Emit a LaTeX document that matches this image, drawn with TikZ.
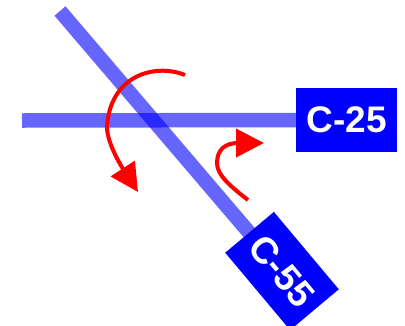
\documentclass[tikz,border=0pt]{standalone}
\usepackage{fontspec}
\setmainfont{Liberation Sans}
\usetikzlibrary{arrows.meta,backgrounds}
\tikzset{
  labelbox/.style={fill={rgb,255:red,0;green,0;blue,255}, text=white, inner sep=0pt,
    minimum width=101pt, minimum height=63.5pt,
    font=\bfseries\fontsize{37}{40}\selectfont},
  bar/.style={draw={rgb,255:red,0;green,0;blue,255}, draw opacity=0.6, line width=14.5pt},
  turn/.style={draw=red, line width=4pt, -{Triangle[length=28pt,width=28pt]}}
}
\begin{document}
\begin{tikzpicture}[x=1pt,y=-1pt]
\useasboundingbox (0,0) rectangle (405,325);
\node[labelbox] (c25) at (346.5,120) {C-25};
\node[labelbox, rotate=-50] (c55) at (282,271) {C-55};
\coordinate (hstart) at (22,120.5);
\coordinate (dstart) at (60,11);
\begin{pgfonlayer}{background}
\draw[bar] (hstart) -- (c25.west);
\draw[bar] (dstart) -- (c55.center);
\end{pgfonlayer}
\coordinate (a1s) at (185,75);
\coordinate (a1m) at (107,127);
\coordinate (a1e) at (138,192);
\draw[turn] (a1s) .. controls (155,63) and (110,75) .. (a1m)
  .. controls (107,145) and (125,172) .. (a1e);
\coordinate (a2s) at (248,200);
\coordinate (a2m) at (217,163);
\coordinate (a2k) at (238,143);
\coordinate (a2e) at (264,143);
\draw[turn] (a2s) .. controls (230,186) and (217,175) .. (a2m)
  .. controls (217,150) and (225,143) .. (a2k) -- (a2e);
\end{tikzpicture}
\end{document}
